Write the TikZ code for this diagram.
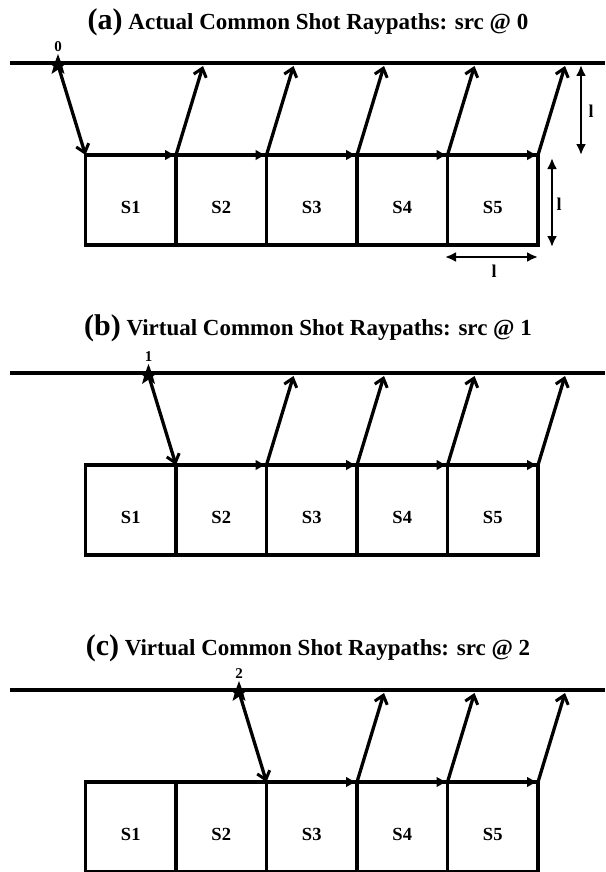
\documentclass[tikz,border=0pt]{standalone}
\usepackage{fontspec}
\setmainfont{Liberation Serif}
\usetikzlibrary{arrows.meta,shapes.geometric}
\tikzset{
  surface/.style={line width=3.4pt},
  cell/.style={draw,line width=3.3pt,minimum width=90.5pt,minimum height=90pt,inner sep=0pt},
  celllabel/.style={font=\bfseries\fontsize{18.5}{18.5}\selectfont,inner sep=0pt},
  ray/.style={line width=3.3pt,-{Straight Barb[length=8pt,width=13pt,line width=3pt]}},
  topray/.style={line width=4.4pt,-{Latex[length=11pt,width=11pt]}},
  dimarrow/.style={line width=2.6pt,{Latex[length=11pt,width=10pt]}-{Latex[length=11pt,width=10pt]}},
  dimlabel/.style={font=\bfseries\fontsize{18}{18}\selectfont,inner sep=0pt},
  titlenode/.style={font=\bfseries\fontsize{23}{23}\selectfont,inner sep=0pt},
  srcstar/.style={star,star points=5,star point ratio=2.4,fill=black,minimum size=22pt,inner sep=0pt},
  srclabel/.style={font=\bfseries\fontsize{15}{15}\selectfont,inner sep=0pt}
}
\newcommand\drawpanel[6]{%
  % #1 name, #2 surface y, #3 source index, #4 title y, #5 letter, #6 title text
  \begin{scope}[shift={(0,#2)}]
    \pgfmathsetmacro\ty{#4-#2}
    \node[titlenode] (#1-title) at (308,\ty) {{\fontsize{30}{30}\selectfont(#5)} #6};
    \coordinate (#1-L) at (10,0);
    \coordinate (#1-R) at (605,0);
    \draw[surface] (#1-L) -- (#1-R);
    \foreach \i in {0,...,5} {\coordinate (#1-d\i) at (85.5+90.5*\i,92);}
    \foreach \i [evaluate=\i as \n using int(\i+1)] in {0,...,4} {
      \node[cell] (#1-b\i) at (85.5+90.5*\i+45.25,137) {};
      \node[celllabel] (#1-s\i) at (85.5+90.5*\i+45.25,144) {S\n};
    }
    \node[srcstar] (#1-src) at (58+90.5*#3,2) {};
    \node[srclabel] (#1-srclab) at (58+90.5*#3,-16) {#3};
    \draw[ray] (#1-src.center) -- (#1-d#3);
    \pgfmathtruncatemacro\kp{#3+1}
    \foreach \j in {\kp,...,5} {
      \coordinate (#1-u\j) at (85.5+90.5*\j+27,3);
      \draw[ray] (#1-d\j) -- (#1-u\j);
    }
    \foreach \j [evaluate=\j as \jn using int(\j+1)] in {#3,...,4} {
      \draw[topray] (#1-d\j) -- (#1-d\jn);
    }
  \end{scope}
}
\begin{document}
\begin{tikzpicture}[x=1pt,y=-1pt]
\useasboundingbox (0,0) rectangle (605,872);
\drawpanel{a}{63}{0}{22}{a}{Actual Common Shot Raypaths: src @ 0}
\drawpanel{b}{373}{1}{328}{b}{Virtual Common Shot Raypaths: src @ 1}
\drawpanel{c}{690}{2}{648}{c}{Virtual Common Shot Raypaths: src @ 2}
% dimension arrows in panel (a)
\coordinate (dv1t) at (581,65);
\coordinate (dv1b) at (581,155);
\coordinate (dv2t) at (552,158);
\coordinate (dv2b) at (552,247);
\coordinate (dh1l) at (445,257);
\coordinate (dh1r) at (538,257);
\draw[dimarrow] (dv1t) -- (dv1b);
\draw[dimarrow] (dv2t) -- (dv2b);
\draw[dimarrow] (dh1l) -- (dh1r);
\node[dimlabel] (dl1) at (591,111) {l};
\node[dimlabel] (dl2) at (559,204) {l};
\node[dimlabel] (dl3) at (494,271) {l};
\end{tikzpicture}
\end{document}
